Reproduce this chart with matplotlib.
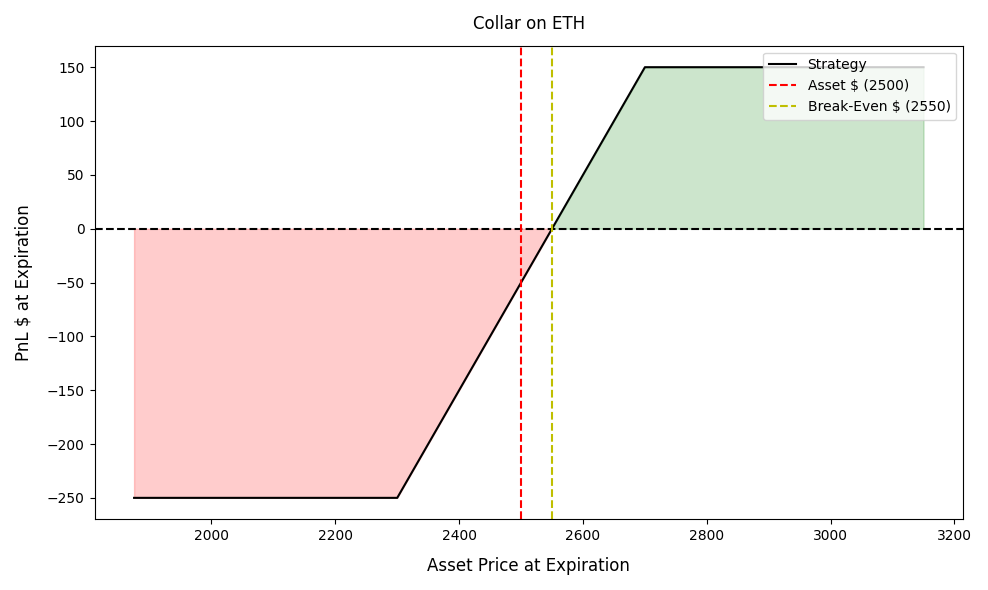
import matplotlib
matplotlib.use("Agg")
import matplotlib.pyplot as plt
import numpy as np

prices = [1875, 2300, 2550, 2700, 3150]
pnl = [-250, -250, 0, 150, 150]
asset_price = 2500
break_even = 2550

x = np.array(prices, dtype=float)
y = np.array(pnl, dtype=float)

fig, ax = plt.subplots(figsize=(9.88, 5.9), dpi=100)
ax.plot(x, y, color="black", label="Strategy")
ax.axhline(0, color="black", linestyle="--")
ax.axvline(asset_price, color="red", linestyle="--", label=f"Asset $ ({asset_price})")
ax.axvline(break_even, color="y", linestyle="--", label=f"Break-Even $ ({break_even})")
ax.fill_between(x, y, 0, where=y >= 0, color="green", alpha=0.2, interpolate=True)
ax.fill_between(x, y, 0, where=y <= 0, color="red", alpha=0.2, interpolate=True)
ax.set_title("Collar on ETH", pad=12)
ax.set_xlabel("Asset Price at Expiration", fontsize=12, labelpad=10)
ax.set_ylabel("PnL $ at Expiration", fontsize=12, labelpad=10)
ax.legend(loc="upper right")
fig.tight_layout()
fig.savefig("out.png", dpi=100)
